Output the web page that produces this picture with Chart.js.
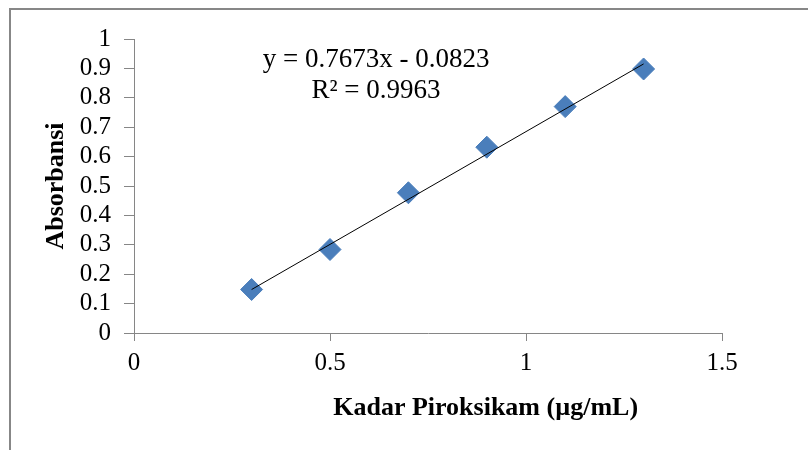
<!DOCTYPE html>
<html>
<head>
<meta charset="utf-8">
<title>Kurva baku piroksikam</title>
<script src="https://cdn.jsdelivr.net/npm/chart.js@4.4.1/dist/chart.umd.min.js"></script>
<style>
  html, body { margin: 0; padding: 0; background: #fff; overflow: hidden; }
  #frame {
    position: absolute; left: 9px; top: 8px; width: 900px; height: 500px;
    border-left: 2px solid #878787; border-top: 2px solid #878787;
  }
  #wrap { position: absolute; left: 0; top: 0; width: 808px; height: 450px; }
</style>
</head>
<body>
<div id="frame"></div>
<div id="wrap"><canvas id="kurva_chart"></canvas></div>
<script>
"use strict"

// data
var kadar = [0.3, 0.5, 0.7, 0.9, 1.1, 1.3];
var absorbansi = [0.148, 0.284, 0.477, 0.632, 0.770, 0.898];

// tick labels as they appear
var xTickLabels = ["0", "0.5", "1", "1.5"];
var yTickLabels = ["0", "0.1", "0.2", "0.3", "0.4", "0.5", "0.6", "0.7", "0.8", "0.9", "1"];

// linear trendline as printed on the chart
var slope = 0.7673;
var intercept = -0.0823;
var rSquared = 0.9963;
var equationLines = ["y = 0.7673x - 0.0823", "R\u00b2 = 0.9963"];

var xTitle = "Kadar Piroksikam (\u00b5g/mL)";
var yTitle = "Absorbansi";

var points = kadar.map(function(x, i){ return {x: x, y: absorbansi[i]}; });
var xFirst = kadar[0], xLast = kadar[kadar.length - 1];
var trend = [
    {x: xFirst, y: slope * xFirst + intercept},
    {x: xLast, y: slope * xLast + intercept}
];

var axisColor = "#868686";
var serif = "'Liberation Serif', 'Times New Roman', serif";

// equation + x axis title drawn as text on the canvas
var textLabels = {
    id: 'textLabels',
    afterDraw: function(chart){
        var ctx = chart.ctx, a = chart.chartArea;
        var w = a.right - a.left, h = a.bottom - a.top;
        ctx.save();
        ctx.fillStyle = "#000";
        ctx.textAlign = "center";
        ctx.textBaseline = "alphabetic";
        ctx.font = "27px " + serif;
        ctx.fillText(equationLines[0], a.left + w * 0.4116, a.top + h * 0.095);
        ctx.fillText(equationLines[1], a.left + w * 0.4116, a.top + h * 0.2);
        ctx.font = "bold 26px " + serif;
        ctx.fillText(xTitle, a.left + w * 0.598, a.bottom + 81.5);
        ctx.restore();
    }
};

var chartArea = document.getElementById("kurva_chart");
var kurvaChart = new Chart(chartArea, {
    data: {
        datasets: [
            {
                type: 'line',
                label: "Linear",
                data: trend,
                borderColor: "#000",
                borderWidth: 1,
                pointRadius: 0,
                fill: false
            },
            {
                type: 'scatter',
                label: "Absorbansi",
                data: points,
                pointStyle: 'rectRot',
                pointRadius: 11,
                pointHoverRadius: 11,
                backgroundColor: "#4a7ebb",
                borderColor: "#4a7ebb",
                borderWidth: 1
            }
        ]
    },
    options: {
        responsive: true,
        maintainAspectRatio: false,
        animation: false,
        layout: { padding: { left: 0, top: 39, right: 86, bottom: 0 } },
        plugins: {
            legend: { display: false },
            tooltip: { enabled: false }
        },
        scales: {
            x: {
                type: 'linear',
                position: 'bottom',
                min: 0,
                max: 1.5,
                afterFit: function(scale){ scale.height = 117; },
                ticks: {
                    stepSize: 0.5,
                    autoSkip: false,
                    padding: 7,
                    color: "#000",
                    font: { family: serif, size: 25 },
                    maxRotation: 0,
                    callback: function(value, index){ return xTickLabels[index]; }
                },
                grid: { drawOnChartArea: false, tickLength: 8, color: axisColor },
                border: { color: axisColor, width: 1 }
            },
            y: {
                type: 'linear',
                min: 0,
                max: 1,
                afterFit: function(scale){ scale.width = 134; },
                ticks: {
                    stepSize: 0.1,
                    autoSkip: false,
                    padding: 13,
                    color: "#000",
                    font: { family: serif, size: 25 },
                    callback: function(value, index){ return yTickLabels[index]; }
                },
                grid: { drawOnChartArea: false, tickLength: 10, color: axisColor },
                border: { color: axisColor, width: 1 },
                title: {
                    display: true,
                    text: yTitle,
                    color: "#000",
                    padding: { top: 41, bottom: 0 },
                    font: { family: serif, size: 26, weight: 'bold' }
                }
            }
        }
    },
    plugins: [textLabels]
});
</script>
</body>
</html>
